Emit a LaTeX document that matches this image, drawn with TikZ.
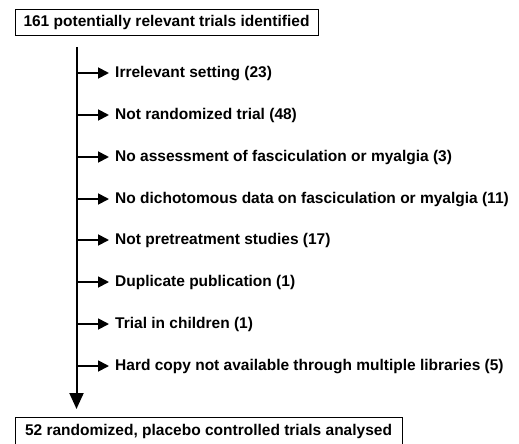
\documentclass[tikz,border=0pt]{standalone}
\usepackage{fontspec}
\setmainfont{Liberation Sans}
\usetikzlibrary{arrows.meta}
\begin{document}
\begin{tikzpicture}[x=1pt,y=-1pt,
  lbl/.style={font=\bfseries\fontsize{15.5}{18}\selectfont, anchor=west, inner sep=0pt, text height=11.5pt, text depth=3pt},
  boxnode/.style={draw, line width=0.9pt, font=\bfseries\fontsize{15.5}{18}\selectfont, inner sep=0pt, text height=11.5pt, text depth=3pt},
  branch/.style={line width=1.8pt, -{Triangle[length=11pt,width=11pt]}},
  mainline/.style={line width=2pt, -{Triangle[length=16pt,width=14pt]}}]
\useasboundingbox (0,0) rectangle (519,444);
\node[boxnode, minimum width=303pt, minimum height=26pt] (top) at (166.5,22) {161 potentially relevant trials identified};
\node[boxnode, minimum width=387pt, minimum height=27pt] (bot) at (208.5,431) {52 randomized, placebo controlled trials analysed};
\coordinate (s) at (76.5,47);
\coordinate (e) at (76.5,409);
\draw[mainline] (s) -- (e);
\foreach \i/\y/\t in {1/73/{Irrelevant setting (23)},
  2/115/{Not randomized trial (48)},
  3/157/{No assessment of fasciculation or myalgia (3)},
  4/199/{No dichotomous data on fasciculation or myalgia (11)},
  5/240/{Not pretreatment studies (17)},
  6/282/{Duplicate publication (1)},
  7/324/{Trial in children (1)},
  8/366/{Hard copy not available through multiple libraries (5)}}{
  \coordinate (b\i) at (76.5,\y);
  \node[lbl] (r\i) at (115,\y) {\t};
  \draw[branch] (b\i) -- ([xshift=-6pt]r\i.west);
}
\end{tikzpicture}
\end{document}
